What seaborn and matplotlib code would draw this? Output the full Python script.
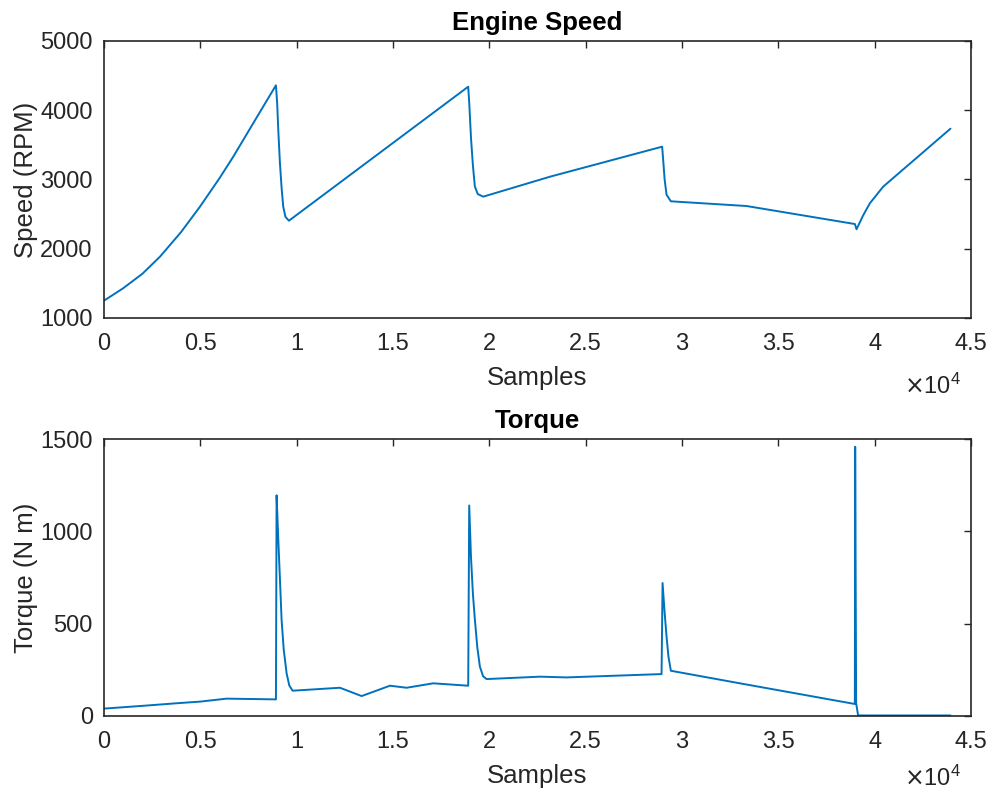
import matplotlib
matplotlib.use("Agg")
import matplotlib.pyplot as plt
from matplotlib.ticker import FuncFormatter, MultipleLocator
import seaborn as sns
import pandas as pd

# engine speed trace (samples, rpm)
speed_x = [0, 1000, 2000, 2906, 4000, 4982, 6000, 6710, 8000, 8926,
           8990, 9050, 9133, 9220, 9305, 9420, 9600, 14000, 18905,
           18960, 19050, 19150, 19250, 19400, 19684, 23145, 28972,
           29020, 29100, 29200, 29424, 33350, 38973, 39060, 39400,
           39751, 40441, 43937]
speed_y = [1250, 1430, 1640, 1885, 2240, 2607, 3020, 3329, 3930, 4360,
           4100, 3700, 3238, 2880, 2607, 2460, 2405, 3320, 4340,
           4100, 3600, 3200, 2900, 2790, 2752, 3040, 3474,
           3300, 3000, 2780, 2685, 2617, 2357, 2281, 2480,
           2656, 2896, 3734]

# torque trace (samples, N m)
torque_x = [0, 2000, 3773, 5000, 6367, 8926, 8960, 9050, 9150, 9220,
            9330, 9480, 9620, 9792, 12247, 13373, 14842, 15708, 17089,
            18905, 18957, 19050, 19150, 19253, 19380, 19512, 19680,
            19860, 22626, 24011, 28941, 28993, 29100, 29200, 29300,
            29424, 33005, 38973, 38990, 39040, 39143, 43937]
torque_y = [40, 55, 69, 78, 94, 90, 1195, 950, 700, 520,
            360, 231, 165, 137, 153, 108, 164, 153, 177,
            164, 1140, 860, 660, 520, 370, 267, 215,
            200, 213, 209, 227, 720, 560, 430, 320,
            245, 177, 65, 1458, 69, 3, 3]

speed = pd.DataFrame({"Samples": speed_x, "Speed": speed_y})
torque = pd.DataFrame({"Samples": torque_x, "Torque": torque_y})

sns.set_theme(style="white")
plt.rcParams["font.family"] = ["Liberation Sans", "DejaVu Sans"]

dark = "#262626"
line_color = "#0072BD"

fig = plt.figure(figsize=(9.92, 7.93), dpi=100)
ax1 = fig.add_axes([0.1048, 0.599, 0.874, 0.3493])
ax2 = fig.add_axes([0.1048, 0.0971, 0.874, 0.3493])

sns.lineplot(data=speed, x="Samples", y="Speed", ax=ax1, color=line_color,
             linewidth=1.4, estimator=None, sort=False)
sns.lineplot(data=torque, x="Samples", y="Torque", ax=ax2, color=line_color,
             linewidth=1.4, estimator=None, sort=False)

setup = [
    (ax1, "Engine Speed", "Speed (RPM)", (1000, 5000), 1000, -0.245),
    (ax2, "Torque", "Torque (N m)", (0, 1500), 500, -0.225),
]
for ax, title, ylabel, ylim, ystep, exp_y in setup:
    ax.set_xlim(0, 45000)
    ax.set_ylim(*ylim)
    ax.xaxis.set_major_locator(MultipleLocator(5000))
    ax.yaxis.set_major_locator(MultipleLocator(ystep))
    ax.xaxis.set_major_formatter(FuncFormatter(lambda v, _: f"{v / 1e4:g}"))
    ax.tick_params(axis="both", direction="in", top=True, right=True,
                   length=5, width=1.0, color=dark, labelcolor=dark,
                   labelsize=17)
    ax.tick_params(axis="x", pad=11)
    ax.tick_params(axis="y", pad=8)
    for sp in ax.spines.values():
        sp.set_color(dark)
        sp.set_linewidth(1.2)
    ax.set_title(title, fontsize=18.5, fontweight="bold", color="black", pad=8)
    ax.set_xlabel("Samples", fontsize=18.5, color=dark, labelpad=8)
    ax.set_ylabel(ylabel, fontsize=18.5, color=dark, labelpad=2)
    ax.text(0.988, exp_y, r"$\times\mathregular{10^{4}}$", transform=ax.transAxes,
            ha="right", va="center", fontsize=17, color=dark)

fig.savefig("out.png", dpi=100)
